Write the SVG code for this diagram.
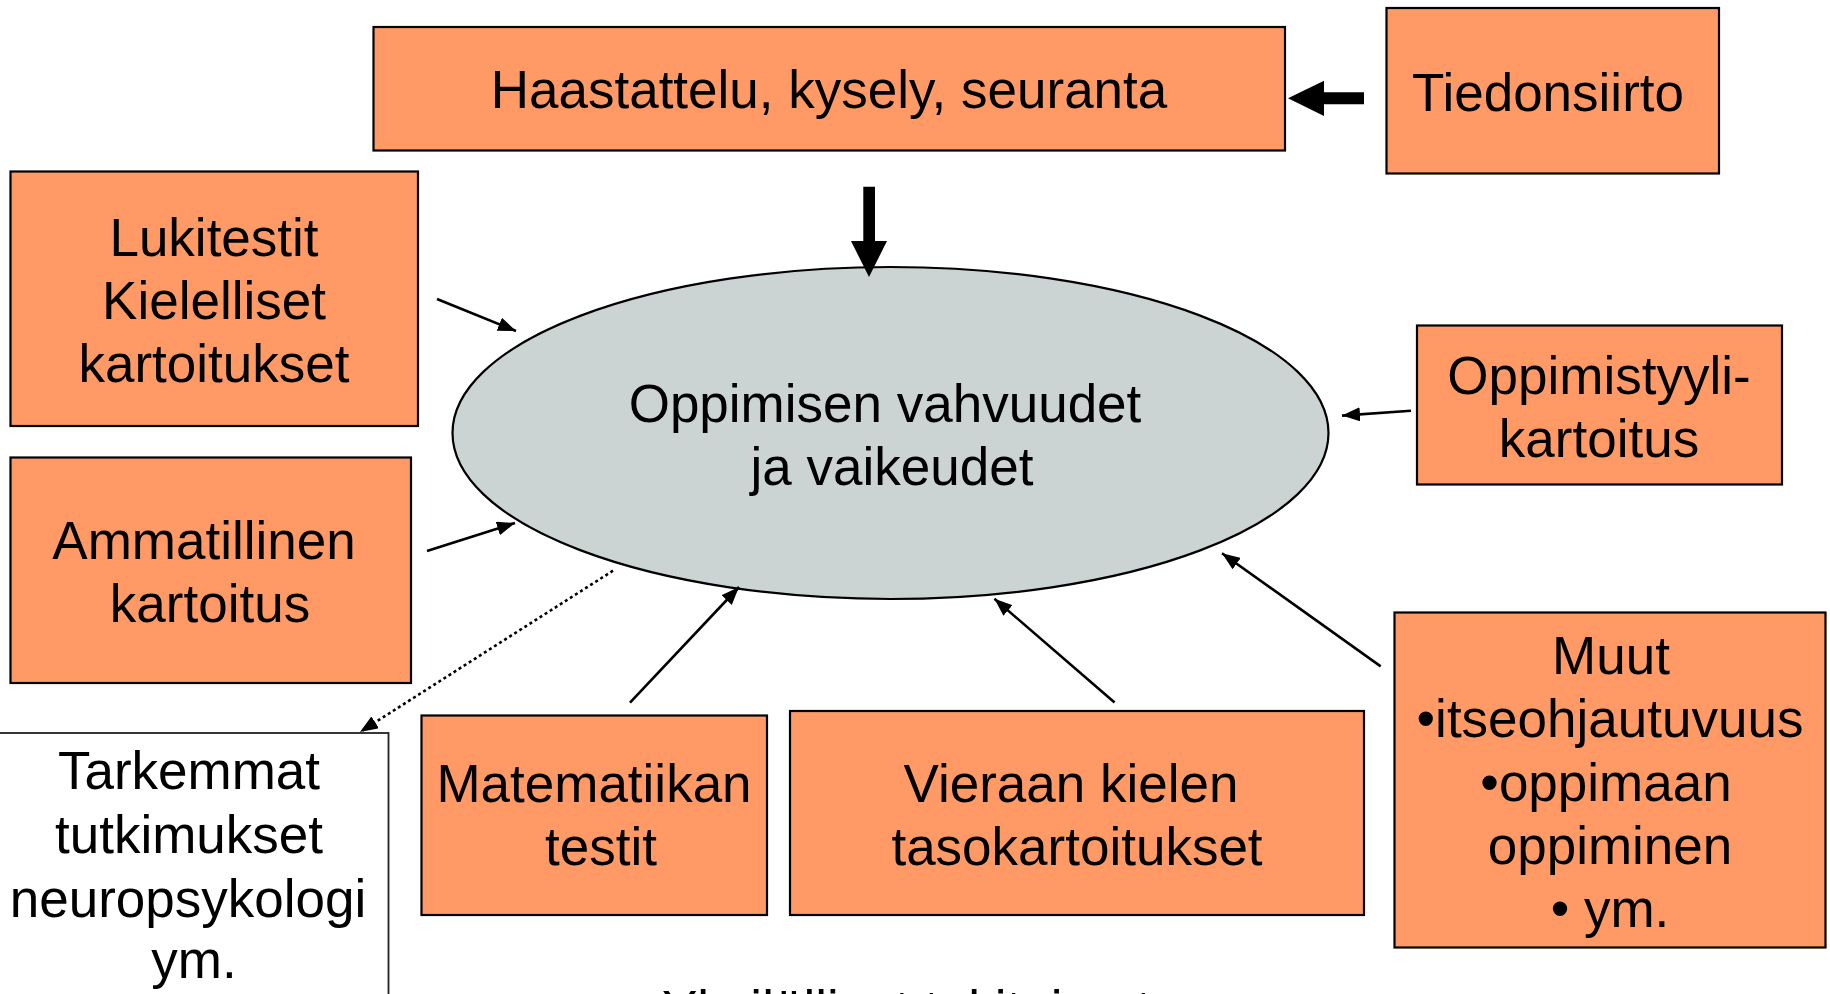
<svg xmlns="http://www.w3.org/2000/svg" width="1830" height="994" viewBox="0 0 1830 994">
<style>
.box{fill:#FF9966;stroke:#000;stroke-width:2.2}
.wbox{fill:#fff;stroke:#222;stroke-width:1.8}
.t{font-family:"Liberation Sans",Arial,sans-serif;font-size:53px;fill:#000;text-anchor:middle}
.con{stroke:#000;stroke-width:2.6;fill:none}
</style>
<defs>
<marker id="ah" markerUnits="userSpaceOnUse" markerWidth="20" markerHeight="14" refX="18" refY="7" orient="auto">
<path d="M0,0 L18,7 L0,14 z" fill="#000"/>
</marker>
</defs>
<rect width="1830" height="994" fill="#fff"/>

<g id="node-ellipse">
<ellipse cx="890.5" cy="433" rx="438" ry="166" fill="#CBD3D3" stroke="#000" stroke-width="2.2"/>
<text class="t" x="885" y="422">Oppimisen vahvuudet</text>
<text class="t" x="892" y="485">ja vaikeudet</text>
</g>

<g id="node-haastattelu">
<rect class="box" x="373.5" y="27" width="911.5" height="123.5"/>
<text class="t" x="829" y="108">Haastattelu, kysely, seuranta</text>
</g>

<g id="node-tiedonsiirto">
<rect class="box" x="1386.5" y="8" width="332.5" height="165.5"/>
<text class="t" x="1548" y="111">Tiedonsiirto</text>
</g>

<g id="node-lukitestit">
<rect class="box" x="10.5" y="171.5" width="407.5" height="254.5"/>
<text class="t" x="214" y="256">Lukitestit</text>
<text class="t" x="214" y="319">Kielelliset</text>
<text class="t" x="214" y="382">kartoitukset</text>
</g>

<g id="node-ammatillinen">
<rect class="box" x="10.5" y="457.5" width="400.5" height="225.5"/>
<text class="t" x="204" y="559">Ammatillinen</text>
<text class="t" x="210" y="622">kartoitus</text>
</g>

<g id="node-tarkemmat">
<rect class="wbox" x="-2" y="733" width="390.5" height="280"/>
<text class="t" x="189" y="789">Tarkemmat</text>
<text class="t" x="189" y="853">tutkimukset</text>
<text class="t" x="188" y="917">neuropsykologi</text>
<text class="t" x="194" y="978">ym.</text>
</g>

<g id="node-oppimistyyli">
<rect class="box" x="1417" y="325.5" width="365" height="159"/>
<text class="t" x="1599" y="394">Oppimistyyli-</text>
<text class="t" x="1599" y="457">kartoitus</text>
</g>

<g id="node-matematiikan">
<rect class="box" x="421.5" y="715.5" width="345.5" height="199.5"/>
<text class="t" x="594" y="802">Matematiikan</text>
<text class="t" x="601" y="865">testit</text>
</g>

<g id="node-vieraan">
<rect class="box" x="790" y="711" width="574" height="204"/>
<text class="t" x="1071" y="802">Vieraan kielen</text>
<text class="t" x="1077" y="865">tasokartoitukset</text>
</g>

<g id="node-muut">
<rect class="box" x="1394.5" y="612.5" width="431" height="335"/>
<text class="t" x="1611" y="674">Muut</text>
<text class="t" x="1610" y="737">•itseohjautuvuus</text>
<text class="t" x="1606" y="801">•oppimaan</text>
<text class="t" x="1610" y="864">oppiminen</text>
<text class="t" x="1610" y="927">• ym.</text>
</g>

<g id="caption">
<text class="t" x="662" y="1028" text-anchor="start" style="text-anchor:start">Yksilölliset tukitoimet</text>
</g>

<g id="connectors">
<polygon points="1288,98.3 1324,80.7 1324,92.3 1364,92.3 1364,104.3 1324,104.3 1324,116" fill="#000"/>
<polygon points="863.3,186.7 875,186.7 875,241 887,241 869,277 851,241 863.3,241" fill="#000"/>
<line class="con" x1="437" y1="299" x2="516" y2="331" marker-end="url(#ah)"/>
<line class="con" x1="427" y1="551" x2="515" y2="523" marker-end="url(#ah)"/>
<line class="con" x1="613" y1="570.7" x2="360" y2="732" stroke-width="3" stroke-dasharray="3 3" marker-end="url(#ah)"/>
<line class="con" x1="630" y1="702.6" x2="739" y2="587" marker-end="url(#ah)"/>
<line class="con" x1="1114.6" y1="702.6" x2="994.4" y2="598.7" marker-end="url(#ah)"/>
<line class="con" x1="1380.7" y1="666.4" x2="1222" y2="553.2" marker-end="url(#ah)"/>
<line class="con" x1="1411" y1="410.8" x2="1342" y2="415.6" marker-end="url(#ah)"/>
</g>
</svg>
